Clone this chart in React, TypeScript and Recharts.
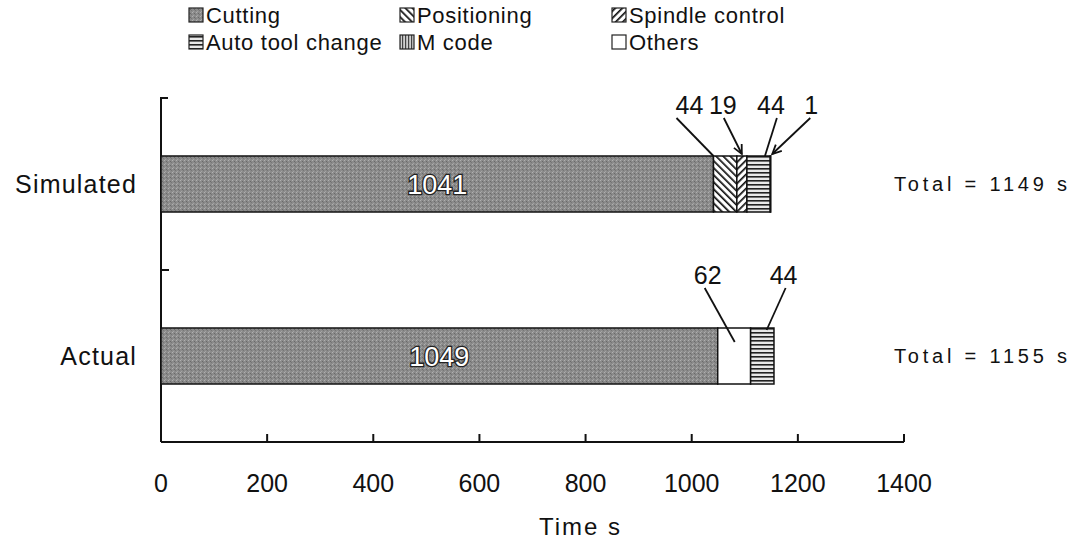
import React from "react"
import { BarChart, Bar, XAxis, YAxis, LabelList, Legend, Customized } from "recharts"

// rows and stacked time components (seconds)
const categories = ["Simulated", "Actual"]
const cutting = [1041, 1049]
const positioning = [44, 0]
const spindleControl = [19, 0]
const others = [0, 62]
const autoToolChange = [44, 44]
const mCode = [1, 0]
const xTicks = [0, 200, 400, 600, 800, 1000, 1200, 1400]
const legendLabels = ["Cutting", "Positioning", "Spindle control", "Auto tool change", "M code", "Others"]

const data = categories.map((name, i) => ({
  name,
  cutting: cutting[i],
  positioning: positioning[i],
  spindle: spindleControl[i],
  others: others[i],
  atc: autoToolChange[i],
  mcode: mCode[i],
  total: cutting[i] + positioning[i] + spindleControl[i] + others[i] + autoToolChange[i] + mCode[i],
}))

const W = 1076
const H = 545
const PLOT_LEFT = 161
const PLOT_TOP = 98
const PLOT_BOTTOM = 442
const PLOT_MID = PLOT_TOP + (PLOT_BOTTOM - PLOT_TOP) / 2
const FONT = "'Liberation Sans', Arial, sans-serif"

const fills: Record<string, string> = {
  Cutting: "url(#fillCutting)",
  Positioning: "url(#fillPositioning)",
  "Spindle control": "url(#fillSpindle)",
  "Auto tool change": "url(#fillAtc)",
  "M code": "url(#fillMcode)",
  Others: "#ffffff",
}

// leader-line callouts per row, offsets relative to the top-left corner of a segment
type Callout = { text: [number, number]; from: [number, number]; to: [number, number]; arrow?: boolean }
const callouts: Record<string, Record<number, Callout>> = {
  positioning: { 0: { text: [-24, -51], from: [-37, -38], to: [0, 0] } },
  spindle: { 0: { text: [-14, -51], from: [-13, -38], to: [5, -2], arrow: true } },
  atc: {
    0: { text: [24, -51], from: [30, -38], to: [18, 0] },
    1: { text: [33, -53], from: [35, -40], to: [16, 2] },
  },
  mcode: { 0: { text: [41, -51], from: [40, -38], to: [2, -2], arrow: true } },
  others: { 1: { text: [-10, -53], from: [-13, -40], to: [17, 14] } },
}

function box(props: any) {
  const vb = props.viewBox ?? {}
  return {
    x: vb.x ?? props.x,
    y: vb.y ?? props.y,
    w: vb.width ?? props.width,
    h: vb.height ?? props.height,
  }
}

function calloutFor(key: string) {
  return (props: any) => {
    const { x, y, w, h } = box(props)
    if (!w || !props.value) return null
    const row = y + h / 2 < PLOT_MID ? 0 : 1
    const c = callouts[key]?.[row]
    if (!c) return null
    const x1 = x + c.from[0]
    const y1 = y + c.from[1]
    const x2 = x + c.to[0]
    const y2 = y + c.to[1]
    let head = null
    if (c.arrow) {
      const a = Math.atan2(y2 - y1, x2 - x1)
      const len = 10
      const p1 = [x2 - len * Math.cos(a - 0.45), y2 - len * Math.sin(a - 0.45)]
      const p2 = [x2 - len * Math.cos(a + 0.45), y2 - len * Math.sin(a + 0.45)]
      head = <path d={`M${p1[0]},${p1[1]} L${x2},${y2} L${p2[0]},${p2[1]}`} fill="none" stroke="#111" strokeWidth={1.8} />
    }
    return (
      <g>
        <line x1={x1} y1={y1} x2={x2} y2={y2} stroke="#111" strokeWidth={1.8} />
        {head}
        <text x={x + c.text[0]} y={y + c.text[1]} textAnchor="middle" dominantBaseline="central" fontSize={25} fontFamily={FONT} fill="#111">
          {props.value}
        </text>
      </g>
    )
  }
}

function CuttingLabel(props: any) {
  const { x, y, w, h } = box(props)
  return (
    <text x={x + w / 2} y={y + h / 2 + 1} textAnchor="middle" dominantBaseline="central" fontSize={27} fontFamily={FONT}
      fill="#ffffff" stroke="#222" strokeWidth={2.6} paintOrder="stroke">
      {props.value}
    </text>
  )
}

function XTick({ x, y, payload }: any) {
  return (
    <g>
      {payload.value !== 0 && <line x1={x} x2={x} y1={y} y2={y - 8} stroke="#111" strokeWidth={2} />}
      <text x={x} y={y + 41} textAnchor="middle" dominantBaseline="central" fontSize={25} fontFamily={FONT} fill="#111">
        {payload.value}
      </text>
    </g>
  )
}

function CategoryTick({ x, y, payload }: any) {
  return (
    <text x={x - 24} y={y} textAnchor="end" dominantBaseline="central" fontSize={25} fontFamily={FONT} letterSpacing={1.2} fill="#111">
      {payload.value}
    </text>
  )
}

function TotalTick({ x, y, payload }: any) {
  const total = data[payload.index]?.total
  return (
    <text x={x - 10} y={y} textAnchor="start" dominantBaseline="central" fontSize={20} fontFamily={FONT} letterSpacing={3.8} fill="#111">
      {`Total = ${total} s`}
    </text>
  )
}

// left axis with inward ticks at the top and between the two rows
function AxisFrame() {
  return (
    <g>
      <line x1={PLOT_LEFT} x2={PLOT_LEFT} y1={PLOT_TOP - 1} y2={PLOT_BOTTOM} stroke="#111" strokeWidth={2} />
      <line x1={PLOT_LEFT} x2={PLOT_LEFT + 7} y1={PLOT_TOP} y2={PLOT_TOP} stroke="#111" strokeWidth={2} />
      <line x1={PLOT_LEFT} x2={PLOT_LEFT + 8} y1={PLOT_MID} y2={PLOT_MID} stroke="#111" strokeWidth={2} />
    </g>
  )
}

const legendCols = [189, 400, 612]
const legendRows = [15, 42]

function LegendBox() {
  return (
    <svg width={W} height={60} style={{ display: "block" }}>
      {legendLabels.map((label, i) => {
        const bx = legendCols[i % 3]
        const cy = legendRows[Math.floor(i / 3)]
        return (
          <g key={label}>
            <rect x={bx} y={cy - 7} width={14} height={14} fill={fills[label]} stroke="#222" strokeWidth={1.2} />
            <text x={bx + 17} y={cy} dominantBaseline="central" fontSize={22} fontFamily={FONT} letterSpacing={0.7} fill="#111">
              {label}
            </text>
          </g>
        )
      })}
    </svg>
  )
}

function Patterns() {
  return (
    <svg width={0} height={0} style={{ position: "absolute" }}>
      <defs>
        <pattern id="fillCutting" width={4} height={4} patternUnits="userSpaceOnUse">
          <rect width={4} height={4} fill="#8b8b8b" />
          <rect x={0} y={0} width={1} height={1} fill="#b0b0b0" />
          <rect x={2} y={1} width={1} height={1} fill="#6a6a6a" />
          <rect x={1} y={3} width={1} height={1} fill="#a4a4a4" />
          <rect x={3} y={2} width={1} height={1} fill="#767676" />
        </pattern>
        <pattern id="fillPositioning" width={5} height={5} patternUnits="userSpaceOnUse" patternTransform="rotate(-45)">
          <rect width={5} height={5} fill="#ffffff" />
          <rect width={1.7} height={5} fill="#111" />
        </pattern>
        <pattern id="fillSpindle" width={5} height={5} patternUnits="userSpaceOnUse" patternTransform="rotate(45)">
          <rect width={5} height={5} fill="#ffffff" />
          <rect width={1.7} height={5} fill="#111" />
        </pattern>
        <pattern id="fillAtc" width={4} height={4} patternUnits="userSpaceOnUse">
          <rect width={4} height={4} fill="#e8e8e8" />
          <rect width={4} height={1.6} fill="#222" />
        </pattern>
        <pattern id="fillMcode" width={3} height={3} patternUnits="userSpaceOnUse">
          <rect width={3} height={3} fill="#d0d0d0" />
          <rect width={1.2} height={3} fill="#444" />
        </pattern>
      </defs>
    </svg>
  )
}

export default function App() {
  const bar = { stackId: "t", yAxisId: "cat", isAnimationActive: false, stroke: "#111", strokeWidth: 1.5 }
  return (
    <div style={{ position: "absolute", left: 0, top: 0, width: W, height: H, background: "#fff" }}>
      <Patterns />
      <BarChart width={W} height={H} data={data} layout="vertical" barSize={56}
        margin={{ top: PLOT_TOP, right: 0, bottom: 0, left: 0 }}>
        <XAxis type="number" domain={[0, 1400]} ticks={xTicks} height={103} axisLine={{ stroke: "#111", strokeWidth: 2 }}
          tickLine={false} tickSize={0} tickMargin={0} tick={<XTick />} interval={0}
          label={(p: any) => {
            const vb = p.viewBox
            return (
              <text x={vb.x + vb.width / 2 + 48} y={vb.y + 84} textAnchor="middle" dominantBaseline="central" fontSize={24}
                fontFamily={FONT} letterSpacing={2} fill="#111">
                Time s
              </text>
            )
          }} />
        <YAxis yAxisId="cat" type="category" dataKey="name" width={PLOT_LEFT} axisLine={false} tickLine={false}
          tickSize={0} tickMargin={0} tick={<CategoryTick />} />
        <YAxis yAxisId="total" orientation="right" type="category" dataKey="name" width={172} axisLine={false}
          tickLine={false} tickSize={0} tickMargin={0} tick={<TotalTick />} />
        <Legend verticalAlign="middle" align="center" layout="horizontal" content={() => <LegendBox />}
          wrapperStyle={{ position: "absolute", left: 0, top: 0, width: W, height: 60 }} />
        <Bar dataKey="cutting" fill={fills.Cutting} {...bar}>
          <LabelList dataKey="cutting" content={<CuttingLabel />} />
        </Bar>
        <Bar dataKey="positioning" fill={fills.Positioning} {...bar}>
          <LabelList dataKey="positioning" content={calloutFor("positioning")} />
        </Bar>
        <Bar dataKey="spindle" fill={fills["Spindle control"]} {...bar}>
          <LabelList dataKey="spindle" content={calloutFor("spindle")} />
        </Bar>
        <Bar dataKey="others" fill={fills.Others} {...bar}>
          <LabelList dataKey="others" content={calloutFor("others")} />
        </Bar>
        <Bar dataKey="atc" fill={fills["Auto tool change"]} {...bar}>
          <LabelList dataKey="atc" content={calloutFor("atc")} />
        </Bar>
        <Bar dataKey="mcode" fill={fills["M code"]} {...bar}>
          <LabelList dataKey="mcode" content={calloutFor("mcode")} />
        </Bar>
        <Customized component={<AxisFrame />} />
      </BarChart>
    </div>
  )
}
